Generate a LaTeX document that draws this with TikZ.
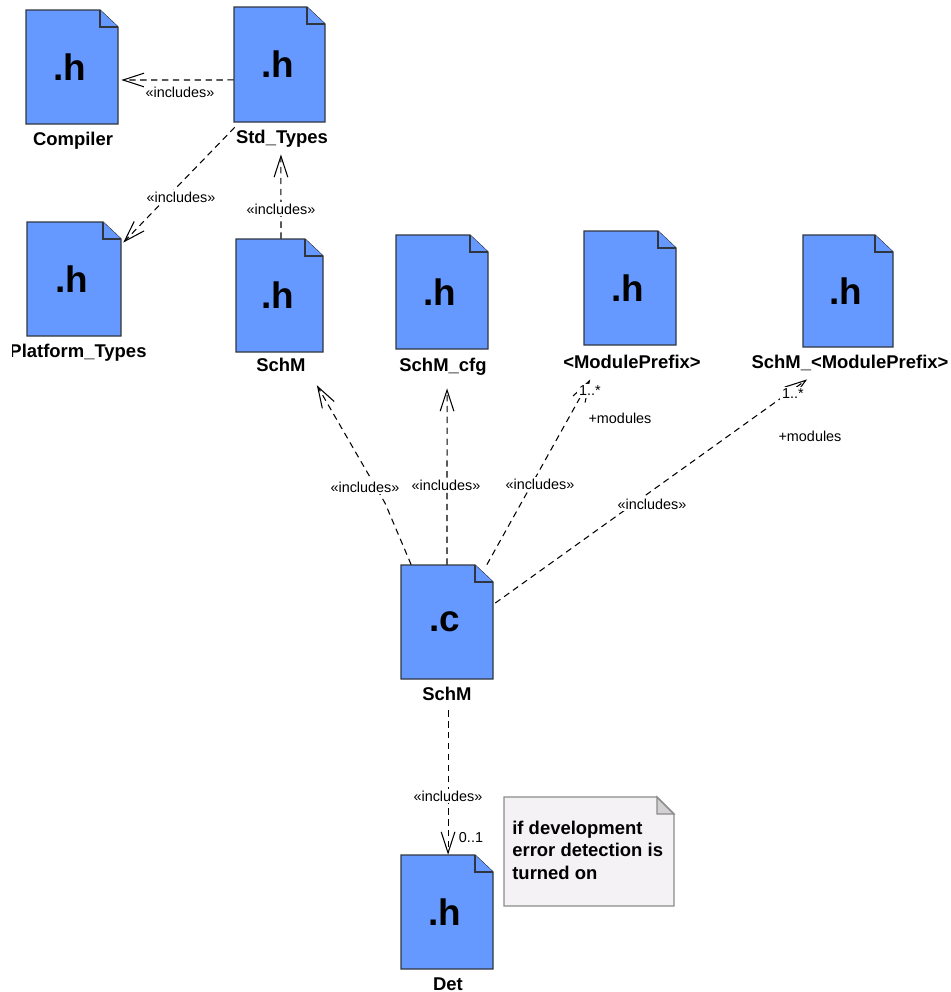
\documentclass[tikz,border=0pt]{standalone}
\usepackage{fontspec}
\setmainfont{Liberation Sans}
\usetikzlibrary{arrows.meta}

\definecolor{filefill}{HTML}{6699FF}
\definecolor{fileline}{HTML}{2F3640}
\definecolor{notefill}{HTML}{F5F2F5}
\definecolor{noteline}{HTML}{8C8C8C}
\definecolor{notefold}{HTML}{D2D0D2}

\tikzset{
  filebody/.style={draw=fileline,fill=filefill,line width=0.7pt},
  filetext/.style={inner sep=0pt,font=\fontsize{21}{24}\selectfont\bfseries},
  filelabel/.style={inner sep=0pt,text height=8pt,text depth=2.5pt,font=\fontsize{10.5}{12.5}\selectfont\bfseries},
  includes/.style={dashed,dash pattern=on 3.6pt off 2.6pt,line width=0.6pt,-{Straight Barb[length=12pt,width=7.8pt]}},
  smalltext/.style={inner sep=1pt,fill=white,font=\fontsize{8.2}{10}\selectfont},
  notetext/.style={inner sep=0pt,align=left,anchor=north west,font=\fontsize{10.5}{12.6}\selectfont\bfseries},
}

% name, left, top, right, bottom, text
\newcommand{\filebox}[6]{
  \filldraw[filebody] (#2,#3) -- ({#4-18},#3) -- (#4,{#3+17}) -- (#4,#5) -- (#2,#5) -- cycle;
  \draw[filebody] ({#4-18},#3) -- ({#4-18},{#3+17}) -- (#4,{#3+17});
  \node[filetext,minimum width={(#4-#2)*0.02cm},minimum height={(#5-#3)*0.02cm}] (#1) at ({(#2+#4)/2},{(#3+#5)/2}) {\hspace*{-2.2pt}\raisebox{-1.7pt}{#6}};
}

\begin{document}
\begin{tikzpicture}[x=0.02cm,y=-0.02cm]
\useasboundingbox (0,0) rectangle (951,992);

\filebox{compiler}{26}{10}{118}{124}{.h}
\filebox{stdtypes}{234}{7}{325}{122}{.h}
\filebox{platform}{27}{222}{121}{336}{.h}
\filebox{schmh}{236}{239}{323}{352}{.h}
\filebox{schmcfg}{396}{235}{488}{349}{.h}
\filebox{prefix}{584}{231}{676}{345}{.h}
\filebox{schmprefix}{803}{235}{893}{347}{.h}
\filebox{schmc}{401}{565}{493}{679}{.c}
\filebox{det}{401}{855}{493}{969}{.h}

\node[filelabel] (compilerlabel) at (73,141) {Compiler};
\node[filelabel] (stdtypeslabel) at (282,139) {Std\_Types};
\begin{scope}
\clip (12,340) rectangle (160,370);
\node[filelabel] (platformlabel) at (78,353) {Platform\_Types};
\end{scope}
\node[filelabel] (schmhlabel) at (281,367) {SchM};
\node[filelabel] (schmcfglabel) at (443,367) {SchM\_cfg};
\node[filelabel] (prefixlabel) at (632,364) {<ModulePrefix>};
\node[filelabel] (schmprefixlabel) at (850,364) {SchM\_<ModulePrefix>};
\node[filelabel] (schmclabel) at (447,696) {SchM};
\node[filelabel,text depth=0pt] (detlabel) at (448,983) {Det};

% note
\filldraw[draw=noteline,fill=notefill,line width=0.8pt] (504,797) -- (657,797) -- (674,814) -- (674,906) -- (504,906) -- cycle;
\filldraw[draw=noteline,fill=notefold,line width=0.8pt] (657,797) -- (657,814) -- (674,814) -- cycle;
\node[notetext] (note) at (512,821) {if development\\error detection is\\turned on};

% connectors
\coordinate (bend) at (385,503);
\draw[includes] ([yshift=-8.8pt]stdtypes.west) -- ([xshift=1.7pt,yshift=-7.4pt]compiler.east);
\draw[includes] ([xshift=0.6pt,yshift=-2.8pt]stdtypes.south west) -- ([xshift=1.1pt,yshift=-11.9pt]platform.north east);
\draw[includes] ([xshift=0.85pt]schmh.north) -- ([xshift=-0.6pt,yshift=-3.3pt]stdtypeslabel.south);
\draw[includes] ([xshift=-20.4pt]schmc.north) -- (bend) -- ([xshift=20.4pt,yshift=-4.9pt]schmhlabel.south);
\draw[includes] (schmc.north) -- ([xshift=2.3pt,yshift=-6.7pt]schmcfglabel.south);
\draw[includes] ([xshift=22.7pt]schmc.north) -- ([xshift=-23.8pt,yshift=-3.3pt]prefixlabel.south);
\draw[includes] ([xshift=1.1pt,yshift=10.8pt]schmc.east) -- ([xshift=-24.4pt,yshift=-3.3pt]schmprefixlabel.south);
\draw[includes] ([xshift=0.6pt,yshift=-2.7pt]schmclabel.south) -- ([xshift=0.6pt]det.north);

\node[smalltext] (inc1) at (180,92) {«includes»};
\node[smalltext] (inc2) at (181,197) {«includes»};
\node[smalltext] (inc3) at (281,209) {«includes»};
\node[smalltext] (inc4) at (365,487) {«includes»};
\node[smalltext] (inc5) at (446,485) {«includes»};
\node[smalltext] (inc6) at (540,484) {«includes»};
\node[smalltext] (inc7) at (652,504) {«includes»};
\node[smalltext] (inc8) at (448,796) {«includes»};

\node[smalltext] (mult1) at (590,391) {1..*};
\node[smalltext] (role1) at (620,418) {+modules};
\node[smalltext] (mult2) at (793,394) {1..*};
\node[smalltext] (role2) at (810,436) {+modules};
\node[smalltext] (mult3) at (471,838) {0..1};
\end{tikzpicture}
\end{document}
